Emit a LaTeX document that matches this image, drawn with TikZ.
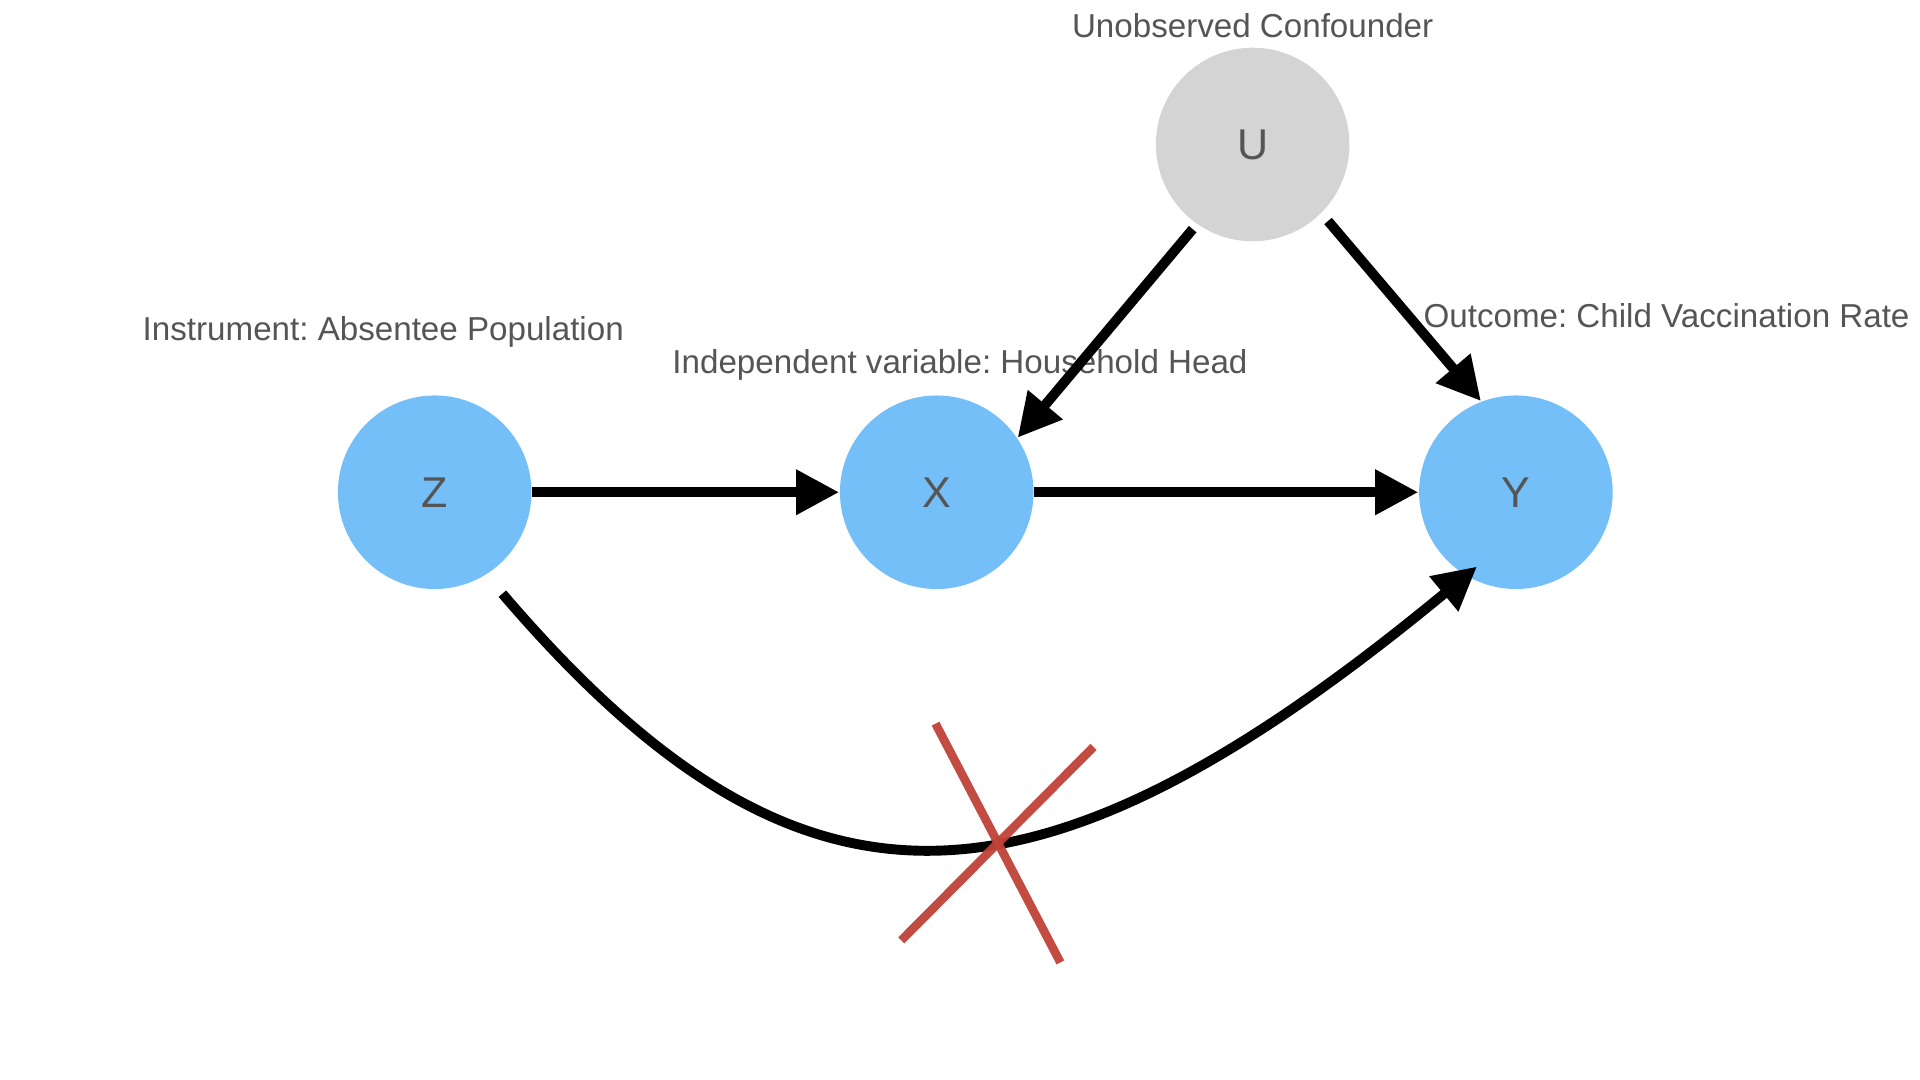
\documentclass[tikz,border=0pt]{standalone}
\usepackage{fontspec}
\setmainfont{Liberation Sans}
\usepackage{tikz}
\usetikzlibrary{arrows.meta}
\frenchspacing

\definecolor{varblue}{RGB}{116,191,248}
\definecolor{hidgray}{RGB}{212,212,212}
\definecolor{txtgray}{RGB}{85,85,85}
\definecolor{crossred}{RGB}{192,66,56}

\tikzset{
  var/.style={circle, fill=varblue, minimum size=1.58cm, inner sep=0pt,
    text=txtgray, font=\fontsize{10}{12}\selectfont},
  hidvar/.style={var, fill=hidgray},
  lbl/.style={text=txtgray, font=\fontsize{7.7}{9}\selectfont, inner sep=0pt},
  edge/.style={line width=2.3pt, -{Triangle[length=10pt,width=10pt]}},
  cross/.style={line width=2pt, crossred, opacity=0.95}
}

\begin{document}
\begin{tikzpicture}[x=0.01cm, y=-0.01cm]
\useasboundingbox (0,0) rectangle (1568,882);
% variables
\node [hidvar] (U) at (1023,118) {U};
\node [var] (Z) at (355,402) {Z};
\node [var] (X) at (765,402) {X};
\node [var] (Y) at (1238,402) {Y};
% labels
\node [lbl] (labU) at (1023,21) {Unobserved Confounder};
\node [lbl] (labZ) at (313,271) {Instrument: Absentee Population};
\node [lbl] (labX) at (784,298) {Independent variable: Household Head};
\node [lbl] (labY) at (1361,258) {Outcome: Child Vaccination Rate};
% edges
\draw [edge] (Z) -- (X);
\draw [edge] (X) -- (Y);
\draw [edge, shorten <=0.05cm] (U.235) -- (X.34);
\draw [edge, shorten <=0.08cm] (U.-45) -- (Y.111);
\draw [edge, shorten <=0.2cm, shorten >=-0.12cm] (Z.-58) .. controls (650,765) and (840,765) .. (Y.239);
% excluded path
\coordinate (c1) at (764,591);
\coordinate (c2) at (866,786);
\coordinate (c3) at (893,610);
\coordinate (c4) at (736,768);
\draw [cross] (c1) -- (c2);
\draw [cross] (c3) -- (c4);
\end{tikzpicture}
\end{document}
